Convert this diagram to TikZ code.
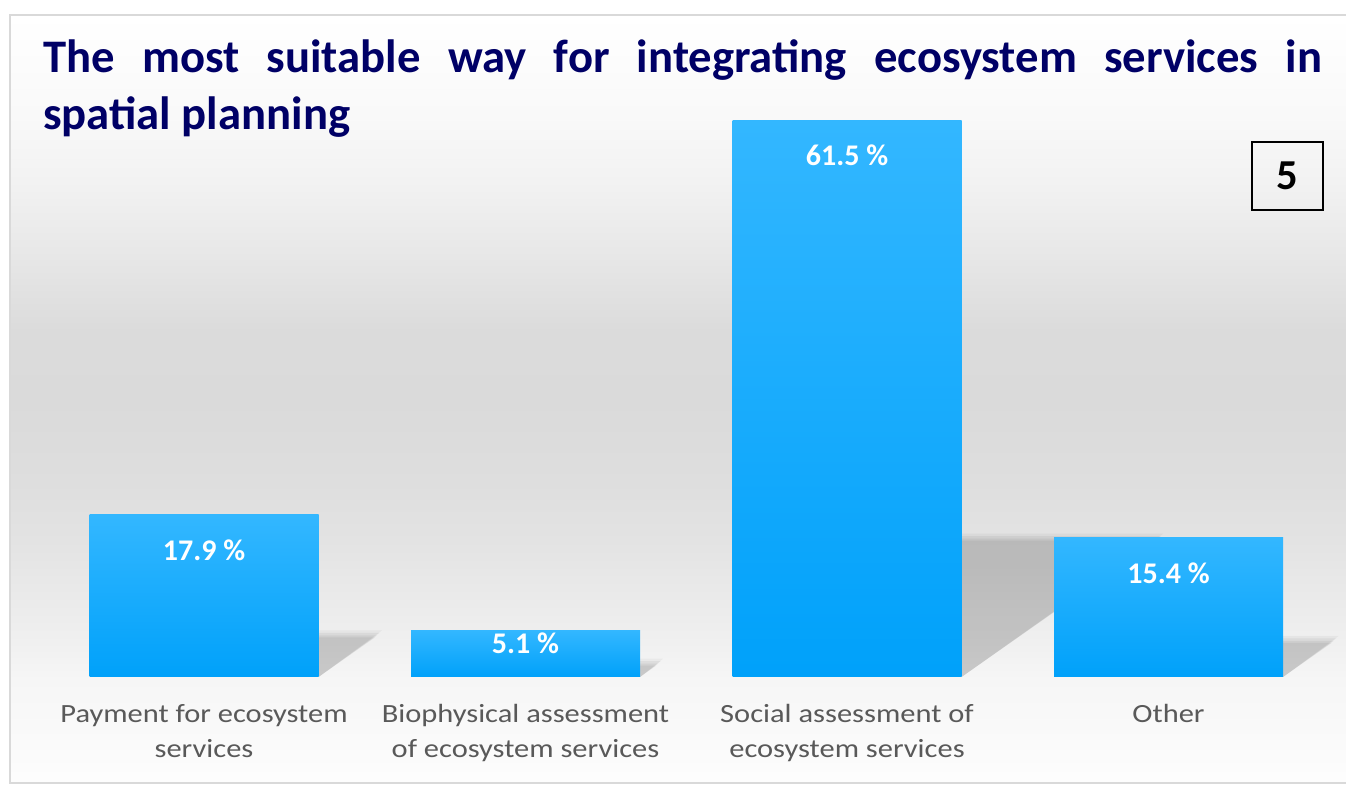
\documentclass[tikz,border=0pt]{standalone}
\usepackage{fontspec}
\setmainfont{Carlito}
\newfontfamily\catfont[FakeStretch=1.16]{Carlito}
\usetikzlibrary{positioning}
\newdimen\px \px=0.75pt
\definecolor{titleblue}{RGB}{0,0,102}
\definecolor{barlight}{RGB}{51,183,255}
\definecolor{bardark}{RGB}{0,161,250}
\definecolor{labelgray}{RGB}{89,89,89}
\definecolor{framegray}{RGB}{217,217,217}
\pgfdeclareverticalshading{backdrop}{100bp}{gray(0bp)=(0.995); gray(25bp)=(0.995);
  gray(26.5bp)=(0.985); gray(31.7bp)=(0.965); gray(34.3bp)=(0.94); gray(36.9bp)=(0.92);
  gray(40.8bp)=(0.89); gray(44.7bp)=(0.87); gray(49.9bp)=(0.855); gray(54.5bp)=(0.86);
  gray(59.7bp)=(0.91); gray(64.3bp)=(0.95); gray(68.2bp)=(0.975); gray(75bp)=(1); gray(100bp)=(1)}
\tikzset{
  title/.style={anchor=base west,inner sep=0,align=left,text=titleblue,
    font=\fontsize{35}{43}\selectfont\bfseries},
  numbox/.style={draw=black,line width=1.5\px,minimum width=71\px,minimum height=68\px,
    inner sep=0,font=\fontsize{32}{38}\selectfont\bfseries},
  bar/.style={anchor=south,minimum width=229\px,inner sep=0,top color=barlight,bottom color=bardark},
  val/.style={anchor=base,inner sep=0,text=white,font=\fontsize{22.5}{27}\selectfont\bfseries},
  cat/.style={anchor=base,inner sep=0,align=center,text=labelgray,
    font=\fontsize{19.7}{26.25}\selectfont\catfont},
}
\begin{document}
\begin{tikzpicture}[x=0.75pt,y=0.75pt]
	\useasboundingbox (0,0) rectangle (1346,796);
	% backdrop
	\draw[framegray,line width=2\px,shading=backdrop] (10,13) rectangle (1348,781);
	% soft shadows behind the bars
	\foreach \x/\h in {204/162,525.5/46.2,847/556.6,1168.5/139.4}
		\foreach \s/\o in {7/0.04,4.5/0.05,2/0.05,0/0.05}
			\fill[black,opacity=\o] (\x-114.5,119) -- (\x+114.5,119)
				-- ++({0.35*\h+\s},{0.245*\h+\s}) -- ++(-229-\s,0) -- cycle;
	% title and number
	\node[title] (head) at (43,666)
		{\makebox[1279\px][s]{The most suitable way for integrating ecosystem services in}\\spatial planning};
	\node[numbox] (num) at (1287.5,620) {5};
	% bars
	\node[bar,minimum height=162\px] (pay) at (204,119) {};
	\node[bar,minimum height=46.2\px] (bio) at (525.5,119) {};
	\node[bar,minimum height=556.6\px] (soc) at (847,119) {};
	\node[bar,minimum height=139.4\px] (oth) at (1168.5,119) {};
	% values
	\node[val] (payval) at ([yshift=-46\px]pay.north) {17.9 \%};
	\node[val] (bioval) at ([yshift=-23\px]bio.north) {5.1 \%};
	\node[val] (socval) at ([yshift=-46\px]soc.north) {61.5 \%};
	\node[val] (othval) at ([yshift=-46\px]oth.north) {15.4 \%};
	% categories
	\node[cat] (paycat) at ([yshift=-81\px]pay.south) {Payment for ecosystem\\services};
	\node[cat] (biocat) at ([yshift=-81\px]bio.south) {Biophysical assessment\\of ecosystem services};
	\node[cat] (soccat) at ([yshift=-81\px]soc.south) {Social assessment of\\ecosystem services};
	\node[cat] (othcat) at ([yshift=-46\px]oth.south) {Other};
\end{tikzpicture}
\end{document}
